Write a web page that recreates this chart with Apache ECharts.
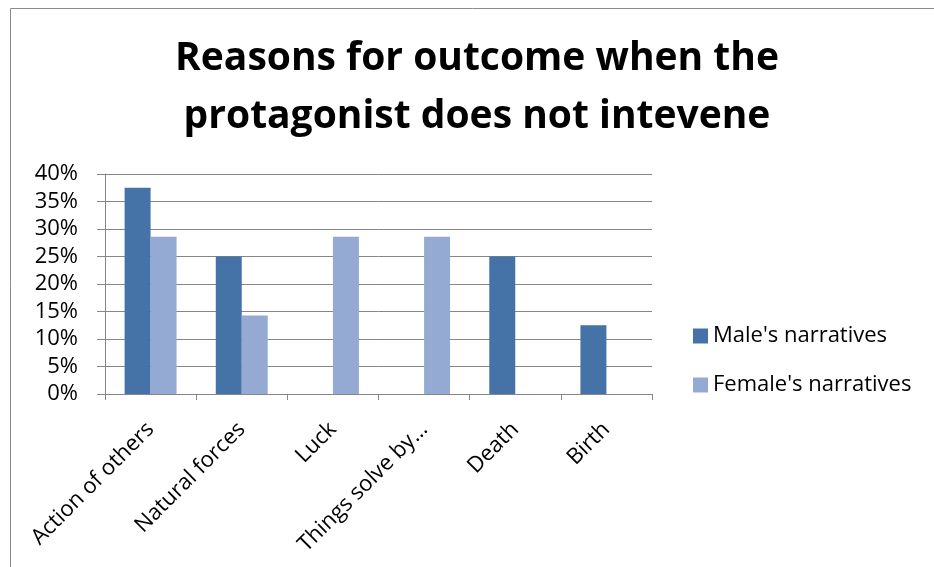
<!DOCTYPE html>
<html><head><meta charset="utf-8">
<script src="https://cdn.jsdelivr.net/npm/echarts@6/dist/echarts.min.js"></script>
<style>html,body{margin:0;padding:0;background:#fff}#c{width:934px;height:567px}</style>
</head><body><div id="c"></div>
<script>
const categories = ["Action of others", "Natural forces", "Luck", "Things solve by…", "Death", "Birth"];
const maleValues = [37.5, 25, 0, 0, 25, 12.5];
const femaleValues = [28.57, 14.29, 28.57, 28.57, 0, 0];
const yTicks = [0, 5, 10, 15, 20, 25, 30, 35, 40];
const seriesNames = ["Male's narratives", "Female's narratives"];
const titleText = "Reasons for outcome when the\nprotagonist does not intevene";

const FONT = "'Open Sans', Lato, sans-serif";
const chart = echarts.init(document.getElementById('c'), null, {renderer: 'canvas'});
chart.setOption({
  animation: false,
  backgroundColor: '#fff',
  title: {
    text: titleText,
    left: 477, textAlign: 'center', top: 30, padding: 0,
    textStyle: {fontFamily: FONT, fontSize: 39, fontWeight: 'bold', color: '#000', lineHeight: 58}
  },
  graphic: [{
    type: 'polyline', silent: true,
    shape: {points: [[10.5, 567], [10.5, 8.5], [934, 8.5]]},
    style: {stroke: '#8c8c8c', lineWidth: 1, fill: null}
  }],
  legend: {
    orient: 'vertical', left: 693, top: 325, padding: 0,
    itemWidth: 15, itemHeight: 15, itemGap: 27,
    icon: 'rect',
    textStyle: {fontFamily: FONT, fontSize: 22, color: '#000', lineHeight: 20},
    data: seriesNames
  },
  grid: {left: 105, right: 934 - 652, top: 174, bottom: 567 - 394, containLabel: false},
  xAxis: {
    type: 'category', data: categories,
    axisLine: {lineStyle: {color: '#868686'}},
    axisTick: {show: true, length: 6, lineStyle: {color: '#868686'}},
    axisLabel: {rotate: 45, fontFamily: FONT, fontSize: 22, color: '#000', margin: 32, interval: 0}
  },
  yAxis: {
    type: 'value', min: 0, max: 40, interval: 5,
    axisLine: {show: true, lineStyle: {color: '#868686'}},
    axisTick: {show: true, length: 8, lineStyle: {color: '#868686'}},
    splitLine: {lineStyle: {color: '#868686'}},
    axisLabel: {fontFamily: FONT, fontSize: 22, color: '#000', margin: 27,
      formatter: v => yTicks.includes(v) ? v + '%' : ''}
  },
  series: [
    {name: seriesNames[0], type: 'bar', data: maleValues, barGap: '0%', barCategoryGap: '43%',
     itemStyle: {color: '#4572A7'}},
    {name: seriesNames[1], type: 'bar', data: femaleValues, barGap: '0%', barCategoryGap: '43%',
     itemStyle: {color: '#95AAD2'}}
  ]
});
</script></body></html>
